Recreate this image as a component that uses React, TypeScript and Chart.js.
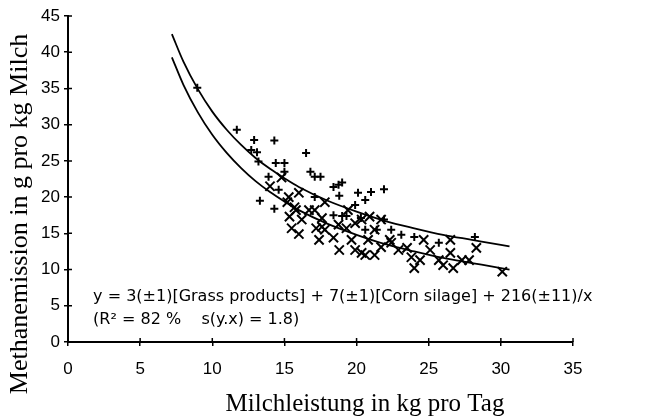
import { useEffect, useRef } from 'react';
import { Chart, registerables } from 'chart.js';

Chart.register(...registerables);

// ---- data ----
const curveX = [7.2, 8, 9, 10, 11, 12, 13, 14, 15, 16, 18, 20, 22, 24, 26, 28, 30, 30.6];
const upperY = [42.5, 38.7, 34.9, 31.8, 29.3, 27.2, 25.4, 23.9, 22.6, 21.4, 19.5, 18.0, 16.7, 15.7, 14.8, 14.1, 13.4, 13.2];
const lowerY = [39.3, 35.5, 31.7, 28.6, 26.1, 24.0, 22.2, 20.7, 19.4, 18.2, 16.3, 14.8, 13.5, 12.5, 11.6, 10.9, 10.2, 10.0];

const plusX = [8.96, 11.7, 12.9, 14.3, 12.7, 13.1, 13.2, 14.4, 15.0, 13.9, 14.6, 13.3, 14.3, 16.5, 16.8, 17.1, 17.5, 18.4, 18.75, 19.0, 18.8, 20.1, 21.0, 21.9, 20.6, 19.9, 17.1, 18.4, 19.0, 19.3, 20.3, 15.0, 22.4, 23.1, 24.0, 25.7, 28.2, 20.6, 21.4, 21.9];
const plusY = [35.1, 29.3, 27.9, 27.8, 26.5, 26.2, 24.9, 24.7, 24.7, 22.8, 21.0, 19.5, 18.4, 26.1, 23.5, 22.8, 22.8, 21.4, 21.7, 22.0, 20.2, 20.6, 20.7, 21.1, 19.6, 18.9, 20.0, 17.5, 17.4, 17.4, 17.1, 23.5, 15.5, 14.8, 14.5, 13.7, 14.5, 15.5, 15.5, 16.9];

const crossX = [14.0, 14.8, 15.2, 15.7, 16.0, 16.7, 16.2, 15.5, 16.0, 17.6, 17.2, 17.4, 17.8, 18.75, 19.3, 18.4, 18.8, 19.4, 19.9, 19.65, 19.9, 20.6, 21.25, 20.8, 21.25, 20.35, 17.8, 17.1, 15.3, 15.8, 15.35, 21.7, 20.9, 22.3, 22.9, 23.5, 23.8, 24.0, 24.4, 24.65, 25.1, 25.7, 26.0, 26.5, 26.5, 26.7, 27.3, 27.8, 28.3, 30.1, 20.35, 21.7, 22.4, 17.6];
const crossY = [21.5, 22.7, 19.3, 18.6, 20.6, 18.2, 16.9, 15.7, 14.9, 17.1, 15.7, 14.1, 15.5, 16.2, 15.7, 14.4, 12.7, 18.2, 16.4, 14.1, 12.7, 12.0, 12.0, 14.1, 15.5, 16.9, 19.3, 18.2, 20.0, 18.2, 17.3, 16.9, 17.3, 14.1, 12.7, 13.0, 11.7, 10.2, 11.3, 14.1, 12.7, 11.3, 10.6, 14.1, 12.3, 10.2, 11.3, 11.3, 13.0, 9.7, 12.3, 13.1, 13.7, 15.9];

const xTickValues = [0, 5, 10, 15, 20, 25, 30, 35];
const yTickValues = [0, 5, 10, 15, 20, 25, 30, 35, 40, 45];

const yTitle = 'Methanemission in g pro kg Milch';
const xTitle = 'Milchleistung in kg pro Tag';
const eqLine1 = 'y = 3(±1)[Grass products] + 7(±1)[Corn silage] + 216(±11)/x';
const eqLine2 = '(R² = 82 %    s(y.x) = 1.8)';

const toPoints = (xs: number[], ys: number[]) => xs.map((v, i) => ({ x: v, y: ys[i] }));

const overlay = {
  id: 'overlay',
  afterDraw(chart: any) {
    const { ctx, scales } = chart;
    const x = scales.x;
    const y = scales.y;
    ctx.save();
    ctx.strokeStyle = '#000';
    ctx.lineWidth = 1.5;
    ctx.beginPath();
    for (const v of xTickValues) {
      const px = x.getPixelForValue(v);
      ctx.moveTo(px, y.bottom);
      ctx.lineTo(px, y.bottom - 4);
    }
    for (const v of yTickValues) {
      const py = y.getPixelForValue(v);
      ctx.moveTo(x.left, py);
      ctx.lineTo(x.left + 4, py);
    }
    ctx.stroke();

    ctx.fillStyle = '#000';
    ctx.textBaseline = 'middle';
    ctx.textAlign = 'left';
    ctx.font = '16px "DejaVu Sans"';
    ctx.fillText(eqLine1, x.getPixelForValue(1.74), y.getPixelForValue(6.2));
    ctx.fillText(eqLine2, x.getPixelForValue(1.74), y.getPixelForValue(3.1));

    ctx.font = '25px "Liberation Serif"';
    ctx.textAlign = 'center';
    ctx.fillText(xTitle, 365, 404);
    ctx.font = '26px "Liberation Serif"';
    ctx.translate(20, 214);
    ctx.rotate(-Math.PI / 2);
    ctx.fillText(yTitle, 0, 0);
    ctx.restore();
  },
};

export default function App() {
  const ref = useRef<HTMLCanvasElement | null>(null);
  useEffect(() => {
    if (!ref.current) return;
    const chart = new Chart(ref.current, {
      type: 'scatter',
      data: {
        datasets: [
          {
            type: 'line',
            label: 'upper',
            data: toPoints(curveX, upperY),
            borderColor: '#000',
            borderWidth: 1.8,
            pointRadius: 0,
            cubicInterpolationMode: 'monotone',
            fill: false,
          },
          {
            type: 'line',
            label: 'lower',
            data: toPoints(curveX, lowerY),
            borderColor: '#000',
            borderWidth: 1.8,
            pointRadius: 0,
            cubicInterpolationMode: 'monotone',
            fill: false,
          },
          {
            label: 'plus',
            data: toPoints(plusX, plusY),
            pointStyle: 'cross',
            pointRadius: 4,
            borderColor: '#000',
            backgroundColor: '#000',
            borderWidth: 2,
          },
          {
            label: 'cross',
            data: toPoints(crossX, crossY),
            pointStyle: 'crossRot',
            pointRadius: 6.5,
            borderColor: '#000',
            backgroundColor: '#000',
            borderWidth: 2,
          },
        ],
      } as any,
      options: {
        responsive: false,
        animation: false,
        layout: { padding: { top: 16, right: 93, left: 0, bottom: 0 } },
        plugins: { legend: { display: false }, tooltip: { enabled: false } },
        scales: {
          x: {
            type: 'linear',
            min: 0,
            max: 35,
            afterFit: (s: any) => { s.height = 75; },
            afterBuildTicks: (s: any) => { s.ticks = xTickValues.map((v) => ({ value: v })); },
            border: { display: true, color: '#000', width: 2 },
            grid: { display: true, drawOnChartArea: false, drawTicks: true, tickLength: 4, color: '#000', lineWidth: 1.5 },
            ticks: { color: '#000', padding: 13, maxRotation: 0, font: { family: 'Liberation Sans', size: 17 } },
          },
          y: {
            type: 'linear',
            min: 0,
            max: 45,
            afterFit: (s: any) => { s.width = 68; },
            afterBuildTicks: (s: any) => { s.ticks = yTickValues.map((v) => ({ value: v })); },
            border: { display: true, color: '#000', width: 2 },
            grid: { display: true, drawOnChartArea: false, drawTicks: true, tickLength: 4, color: '#000', lineWidth: 1.5 },
            ticks: { color: '#000', padding: 4, font: { family: 'Liberation Sans', size: 17 } },
          },
        },
      },
      plugins: [overlay],
    });
    return () => chart.destroy();
  }, []);
  return (
    <div style={{ position: 'absolute', left: 0, top: 0, width: 666, height: 417, background: '#fff' }}>
      <canvas ref={ref} width={666} height={417} />
    </div>
  );
}
